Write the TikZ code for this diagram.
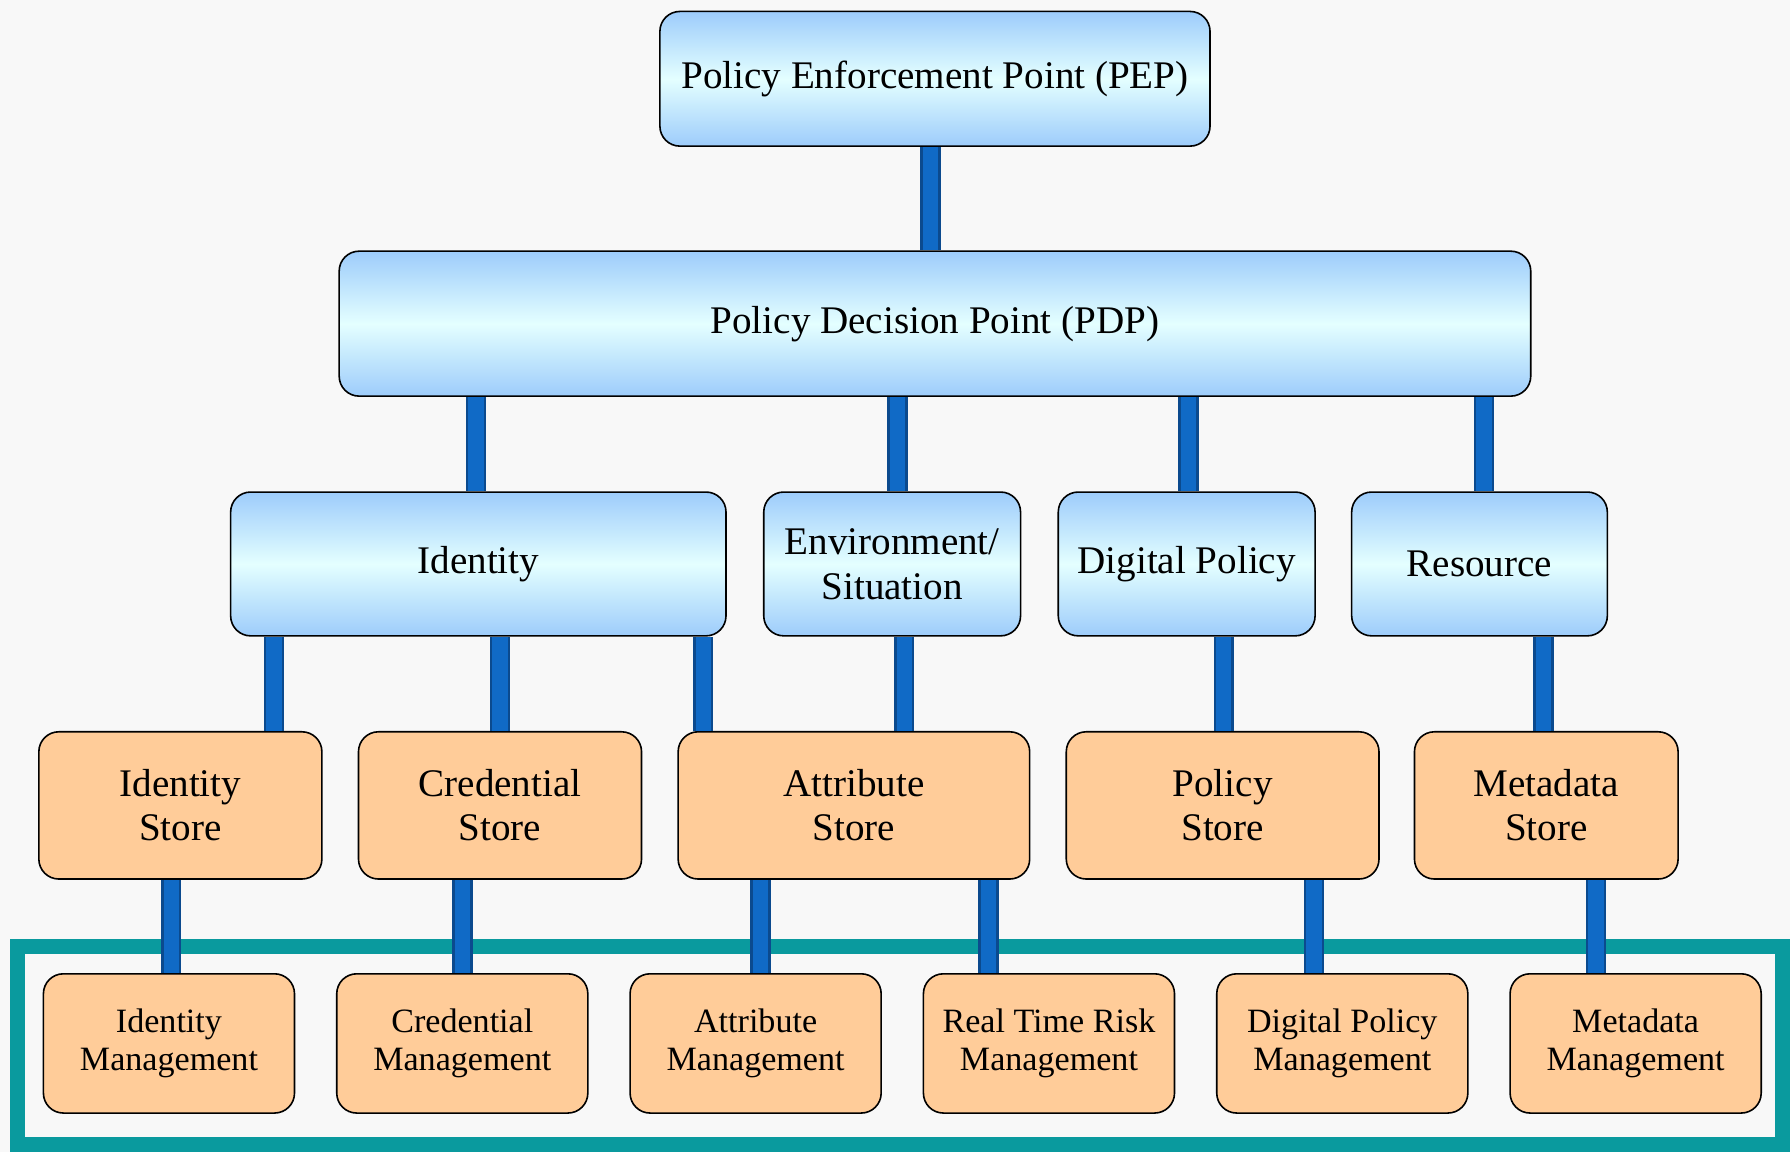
\documentclass[tikz,border=0pt]{standalone}
\usepackage{fontspec}
\setmainfont{Liberation Serif}
\usetikzlibrary{positioning, calc}
\definecolor{bgpaper}{RGB}{248,248,248}
\definecolor{boxedge}{RGB}{157,204,251}
\definecolor{boxmid}{RGB}{228,255,255}
\definecolor{storeorange}{RGB}{255,204,153}
\definecolor{barblue}{RGB}{16,106,198}
\definecolor{baredge}{RGB}{11,74,142}
\definecolor{frameteal}{RGB}{10,154,158}
\tikzset{
	every node/.style={align=center, inner sep=0pt},
	upper/.style={draw, thick, rounded corners=0.35cm, top color=boxedge, bottom color=boxedge, middle color=boxmid, font=\fontsize{19.5}{22.5}\selectfont},
	store/.style={draw, thick, rounded corners=0.35cm, fill=storeorange, font=\fontsize{19.5}{22}\selectfont},
	mgmt/.style={store, minimum width=4.4cm, minimum height=2.44cm, font=\fontsize{17}{19}\selectfont},
	bar/.style={draw=baredge, line width=1.3pt, double=barblue, double distance=7.6pt, shorten <=0.2pt, shorten >=0.2pt},
	selframe/.style={draw=frameteal, line width=0.26cm},
}

\begin{document}
\begin{tikzpicture}[x=0.02cm, y=-0.02cm]
			\useasboundingbox[fill=bgpaper] (0,0) rectangle (1568,1009);
			\draw[selframe] (15.5,829) rectangle (1561.5,1002.5);
			
			\node[upper, minimum width=9.64cm, minimum height=2.36cm] (PEP) at (819,69) {Policy Enforcement Point (PEP)};
			\node[upper, minimum width=20.88cm, minimum height=2.54cm] (PDP) at (819,283.5) {Policy Decision Point (PDP)};
			
			\node[upper, minimum width=8.68cm, minimum height=2.52cm] (IDN) at (419,494) {Identity};
			\node[upper, minimum width=4.5cm, minimum height=2.52cm] (ENV) at (781.5,494) {Environment/\\Situation};
			\node[upper, minimum width=4.5cm, minimum height=2.52cm] (DPOL) at (1039.5,494) {Digital Policy};
			\node[upper, minimum width=4.48cm, minimum height=2.52cm] (RES) at (1296,494) {Resource};
			
			\node[store, minimum width=4.96cm, minimum height=2.58cm] (IDS) at (158,705.5) {Identity\\Store};
			\node[store, minimum width=4.96cm, minimum height=2.58cm] (CRS) at (438,705.5) {Credential\\Store};
			\node[store, minimum width=6.16cm, minimum height=2.58cm] (ATS) at (748,705.5) {Attribute\\Store};
			\node[store, minimum width=5.48cm, minimum height=2.58cm] (POS) at (1071,705.5) {Policy\\Store};
			\node[store, minimum width=4.62cm, minimum height=2.58cm] (MDS) at (1354.5,705.5) {Metadata\\Store};
			
			\node[mgmt] (IDM) at (148,914) {Identity\\Management};
			\node[mgmt, right=0.712cm of IDM] (CRM) {Credential\\Management};
			\node[mgmt, right=0.712cm of CRM] (ATM) {Attribute\\Management};
			\node[mgmt, right=0.712cm of ATM] (RTR) {Real Time Risk\\Management};
			\node[mgmt, right=0.712cm of RTR] (DPM) {Digital Policy\\Management};
			\node[mgmt, right=0.712cm of DPM] (MDM) {Metadata\\Management};
			
			\foreach \up/\low/\x in {PEP/PDP/815, PDP/IDN/417, PDP/ENV/786, PDP/DPOL/1041, PDP/RES/1300,
				IDN/IDS/240, IDN/CRS/438, IDN/ATS/616, ENV/ATS/792, DPOL/POS/1072, RES/MDS/1352,
				IDS/IDM/150, CRS/CRM/405, ATS/ATM/666, ATS/RTR/866, POS/DPM/1151, MDS/MDM/1398}
				\draw[bar] (\x,0 |- \up.south) -- (\x,0 |- \low.north);
		\end{tikzpicture}
\end{document}
